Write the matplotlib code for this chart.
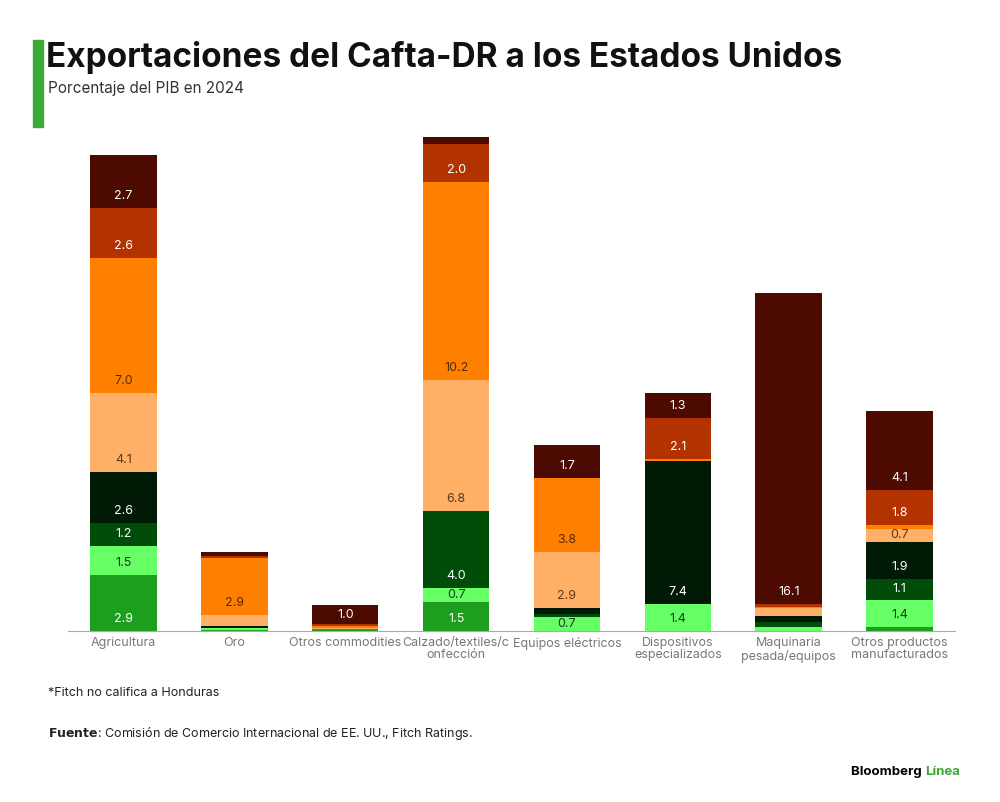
import matplotlib.pyplot as plt
import numpy as np

plt.rcParams['font.family'] = ['Inter', 'DejaVu Sans']

categories = ['Agricultura', 'Oro', 'Otros commodities', 'Calzado/textiles/c\nonfección',
              'Equipos eléctricos', 'Dispositivos\nespecializados', 'Maquinaria\npesada/equipos',
              'Otros productos\nmanufacturados']

# stacked series, bottom to top
s0 = [2.9, 0.05, 0.1, 1.5, 0.0, 0.0, 0.0, 0.2]
s1 = [1.5, 0.1, 0.0, 0.7, 0.7, 1.4, 0.2, 1.4]
s2 = [1.2, 0.0, 0.0, 4.0, 0.2, 0.0, 0.25, 1.1]
s3 = [2.6, 0.1, 0.0, 0.0, 0.3, 7.4, 0.35, 1.9]
s4 = [4.1, 0.6, 0.05, 6.8, 2.9, 0.0, 0.4, 0.7]
s5 = [7.0, 2.9, 0.1, 10.2, 3.8, 0.1, 0.05, 0.2]
s6 = [2.6, 0.15, 0.1, 2.0, 0.0, 2.1, 0.15, 1.8]
s7 = [2.7, 0.2, 1.0, 0.35, 1.7, 1.3, 16.1, 4.1]
series = [s0, s1, s2, s3, s4, s5, s6, s7]

colors = ['#1e9e1e', '#66ff66', '#004d0a', '#001a05', '#ffb066', '#ff8000', '#b33300', '#4d0a00']
text_colors = ['white', '#1a3a1a', 'white', 'white', '#5a3a1a', '#5a2a00', 'white', 'white']

fig = plt.figure(figsize=(10, 8.02), dpi=100)
ax = fig.add_axes([0.068, 1 - 631 / 802, 0.887, (631 - 136) / 802])

x = np.arange(len(categories))
bottom = np.zeros(len(categories))
for vals, c, tc in zip(series, colors, text_colors):
    vals = np.array(vals)
    ax.bar(x, vals, 0.6, bottom=bottom, color=c)
    for xi, v, b in zip(x, vals, bottom):
        if v >= 0.65:
            ax.text(xi, b + min(v / 2, 0.62), f'{v:.1f}', ha='center', va='center', color=tc, fontsize=9)
    bottom += vals

ax.set_xlim(-0.5, 7.5)
ax.set_ylim(0, 25.6)
ax.set_xticks(x)
ax.set_xticklabels(categories, color='#777777', fontsize=9, linespacing=1.1)
ax.tick_params(axis='x', length=0, pad=4)
ax.set_yticks([])
for s in ['top', 'right', 'left']:
    ax.spines[s].set_visible(False)
ax.spines['bottom'].set_color('#aaaaaa')

fig.patches.append(plt.Rectangle((33 / 1000, 1 - 127 / 802), 10 / 1000, 87 / 802,
                                 transform=fig.transFigure, color='#3aa935'))
fig.text(0.046, 1 - 57 / 802, 'Exportaciones del Cafta-DR a los Estados Unidos',
         fontsize=24, fontweight='bold', va='center', color='#111111')
fig.text(0.048, 1 - 89 / 802, 'Porcentaje del PIB en 2024', fontsize=11, va='center', color='#333333')
fig.text(0.048, 1 - 693 / 802, '*Fitch no califica a Honduras', fontsize=9, va='center', color='#222222')
fig.text(0.048, 1 - 733 / 802, r'$\bf{Fuente}$: Comisión de Comercio Internacional de EE. UU., Fitch Ratings.',
         fontsize=9, va='center', color='#222222')
fig.text(0.925, 1 - 772 / 802, 'Bloomberg ', fontsize=9.5, fontweight='bold', ha='right', va='center')
fig.text(0.925, 1 - 772 / 802, 'Línea', fontsize=9.5, fontweight='bold', color='#3aa935', ha='left', va='center')

fig.savefig('out.png', dpi=100)
